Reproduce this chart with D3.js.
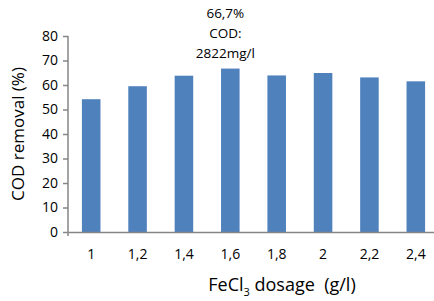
<!DOCTYPE html>
<html>
<head>
<meta charset="utf-8">
<script src="https://cdn.jsdelivr.net/npm/d3@7"></script>
<style>
  body { margin: 0; background: #fff; }
  text { font-family: "Open Sans", "Liberation Sans", sans-serif; fill: #000; }
</style>
</head>
<body>
<div id="chart"></div>
<script>
// Data
const dosages = ['1', '1,2', '1,4', '1,6', '1,8', '2', '2,2', '2,4'];
const removal = [54.2, 59.5, 63.8, 66.7, 63.9, 64.9, 63.1, 61.5];
const yTicks = [0, 10, 20, 30, 40, 50, 60, 70, 80];
const noteLines = ['66,7%', 'COD:', '2822mg/l'];

const W = 434, H = 301;
const margin = {top: 36, left: 68, bottom: 69};
const plotW = 371;
const plotH = H - margin.top - margin.bottom;

const svg = d3.select('#chart').append('svg')
    .attr('width', W)
    .attr('height', H);

const g = svg.append('g')
    .attr('transform', `translate(${margin.left},${margin.top})`);

const x = d3.scaleBand().domain(dosages).range([0, plotW]).paddingInner(0.6).paddingOuter(0.3);
const y = d3.scaleLinear().domain([0, 80]).range([plotH, 0]);

// bars
g.selectAll('rect.bar')
    .data(removal)
    .join('rect')
    .attr('class', 'bar')
    .attr('x', (d, i) => x(dosages[i]))
    .attr('y', d => y(d))
    .attr('width', x.bandwidth())
    .attr('height', d => plotH - y(d))
    .attr('fill', '#4f81bd');

// Y axis
const yAxis = g.append('g')
    .call(d3.axisLeft(y).tickValues(yTicks).tickSize(5).tickPadding(5));
yAxis.select('.domain').attr('stroke', '#868686').attr('stroke-width', 1.5)
    .attr('d', `M0,0V${plotH + 4}`);
yAxis.selectAll('.tick line').attr('stroke', '#868686').attr('stroke-width', 1.5);
yAxis.selectAll('.tick text').style('font-size', '14px');

// X axis
const xAxis = g.append('g')
    .attr('transform', `translate(0,${plotH})`)
    .call(d3.axisBottom(x).tickSize(0).tickPadding(17));
xAxis.select('.domain').attr('stroke', '#868686').attr('stroke-width', 1.5);
xAxis.selectAll('.tick text').style('font-size', '14px');

// axis titles
svg.append('text')
    .attr('transform', `translate(24,${margin.top + plotH / 2}) rotate(-90)`)
    .attr('text-anchor', 'middle')
    .style('font-size', '17px')
    .text('COD removal (%)');

const xt = svg.append('text')
    .attr('x', 282)
    .attr('y', 291)
    .attr('text-anchor', 'middle')
    .style('font-size', '18px');
xt.append('tspan').text('FeCl');
xt.append('tspan').attr('dy', 5).style('font-size', '11px').text('3');
xt.append('tspan').attr('dy', -5).attr('xml:space', 'preserve').text(' dosage  (g/l)');

// note above the best bar
const best = removal.indexOf(d3.max(removal));
svg.append('g')
    .selectAll('text')
    .data(noteLines)
    .join('text')
    .attr('x', margin.left + x(dosages[best]) + x.bandwidth() / 2 - 5)
    .attr('y', (d, i) => 18 + i * 20)
    .attr('text-anchor', 'middle')
    .style('font-size', '13.5px')
    .text(d => d);
</script>
</body>
</html>
